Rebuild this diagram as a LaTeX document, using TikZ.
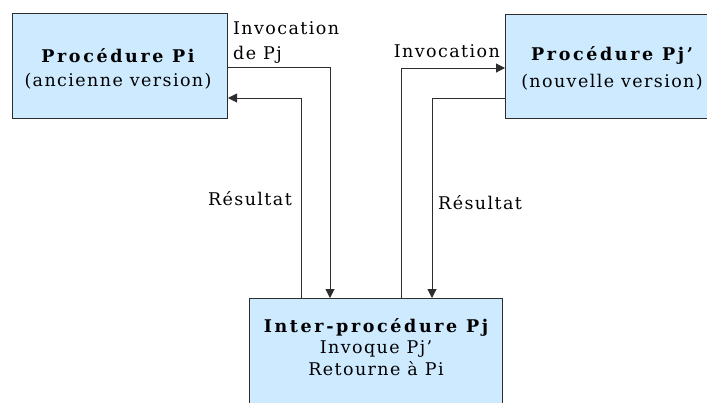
\documentclass[tikz,border=0pt]{standalone}
\usepackage{fontspec}
\setmainfont{DejaVu Serif}[LetterSpace=8]
\newfontfamily\headfont{DejaVu Serif}[LetterSpace=15]
\usetikzlibrary{arrows.meta}
\definecolor{boxfill}{RGB}{206,234,255}
\definecolor{ink}{RGB}{45,45,45}
\tikzset{
  procbox/.style={draw=ink, line width=1pt, fill=boxfill, inner sep=0pt},
  label/.style={font=\fontsize{17.5}{21}\selectfont, text=black, inner sep=0pt},
  head/.style={font=\headfont\bfseries\fontsize{17.5}{21}\selectfont, text=black, inner sep=0pt},
  link/.style={draw=ink, line width=1pt},
  linkarrow/.style={link, -{Triangle[length=9pt,width=9pt]}},
}
\begin{document}
\begin{tikzpicture}[x=1pt,y=-1pt]
  \useasboundingbox (0,0) rectangle (707,402);
  \clip (0,0) rectangle (707,402);
  % procedure boxes
  \node[procbox, minimum width=215pt, minimum height=105pt, anchor=north west] (pi) at (12,13) {};
  \node[procbox, minimum width=210pt, minimum height=104pt, anchor=north west] (pj) at (505,14) {};
  \node[procbox, minimum width=253pt, minimum height=115pt, anchor=north west] (inter) at (249,298) {};
  % box texts
  \node[head, anchor=base] (pit) at (118,62) {Procédure Pi};
  \node[label, anchor=base] (pis) at (118,86) {(ancienne version)};
  \node[head, anchor=base] (pjt) at (612,60) {Procédure Pj’};
  \node[label, anchor=base] (pjs) at (612,87) {(nouvelle version)};
  \node[head, anchor=base] (it) at (376,332) {Inter-procédure Pj};
  \node[label, anchor=base] (is1) at (376,353) {Invoque Pj’};
  \node[label, anchor=base] (is2) at (376,375) {Retourne à Pi};
  % bend points
  \coordinate (c1) at (330,67);
  \coordinate (c2) at (301,98);
  \coordinate (c3) at (401,68);
  \coordinate (c4) at (432,98);
  % connectors
  \draw[linkarrow] (pi.east |- c1) -| (c1 |- inter.north);
  \draw[linkarrow] (c2 |- inter.north) |- (pi.east |- c2);
  \draw[linkarrow] (c3 |- inter.north) |- (pj.west |- c3);
  \draw[linkarrow] (pj.west |- c4) -| (c4 |- inter.north);
  % connector labels
  \node[label, anchor=base west] (l1a) at (233,34) {Invocation};
  \node[label, anchor=base west] (l1b) at (233,59) {de Pj};
  \node[label, anchor=base east] (l2) at (500,57) {Invocation};
  \node[label, anchor=base east] (l3) at (292,205) {Résultat};
  \node[label, anchor=base west] (l4) at (438,209) {Résultat};
\end{tikzpicture}
\end{document}
